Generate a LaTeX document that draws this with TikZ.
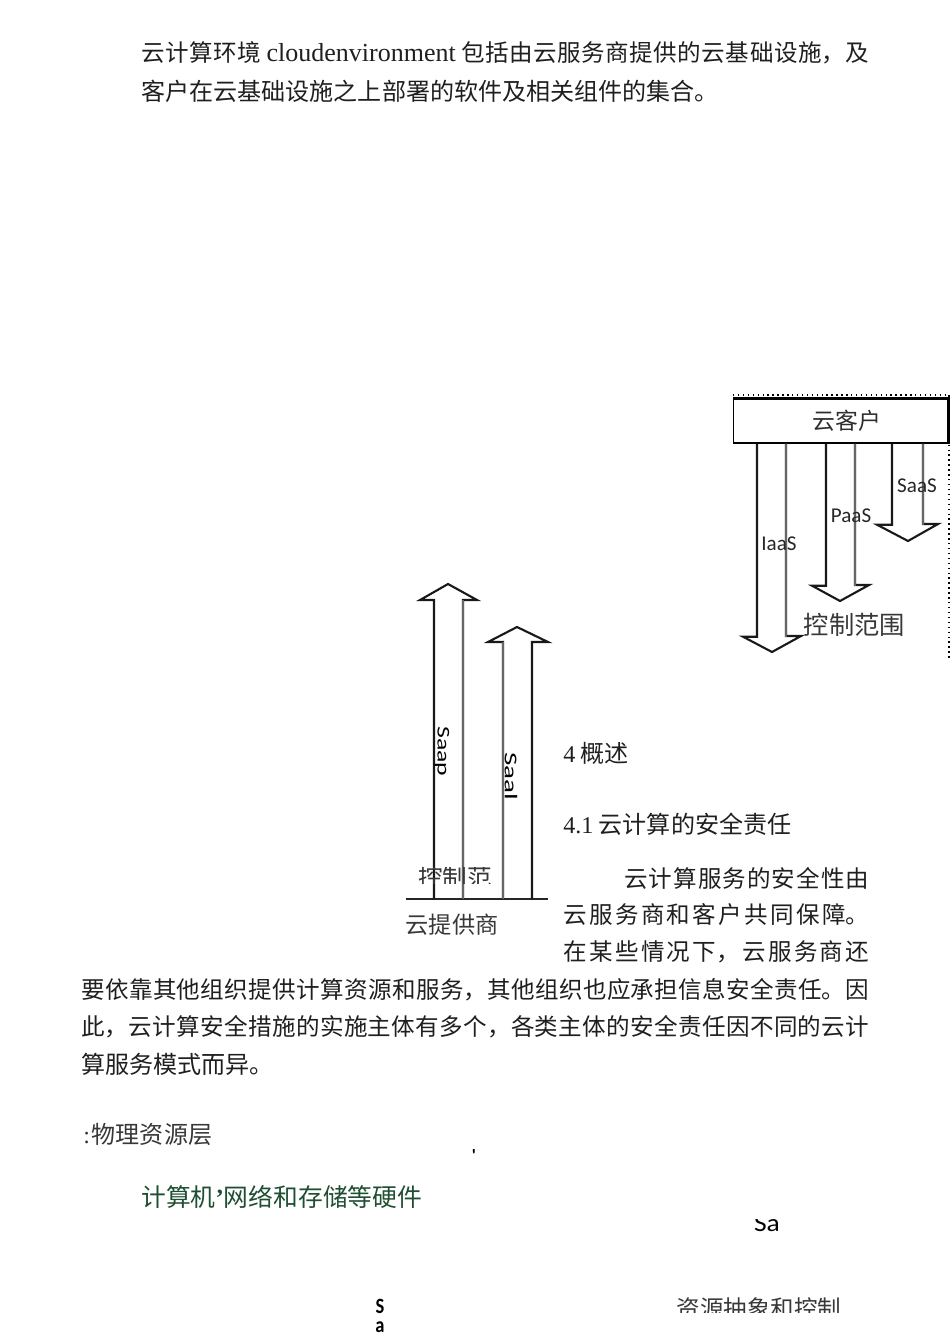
\documentclass[tikz,border=0pt]{standalone}
\usepackage{fontspec}
\setmainfont{Liberation Serif}
\newfontfamily\cjk{Noto Sans CJK SC}
\newfontfamily\labelfont{Carlito}
\XeTeXlinebreaklocale "zh"
\XeTeXlinebreakskip=0pt plus 4pt
\tolerance=9999
\newcommand{\fitline}[1]{\parfillskip=0pt\relax\noindent #1\par}
\tikzset{
	bodyline/.style = {anchor = west, inner sep = 0, align = justify, text width = #1*0.02cm, font = \fontsize{13.4pt}{16pt}\selectfont\cjk, text = black!88},
	plainline/.style = {anchor = west, inner sep = 0, font = \fontsize{13.7pt}{16pt}\selectfont\cjk, text = black!88},
	blockarrow/.style = {line width = 1.2pt, black!90, line join = miter},
	greyshaft/.style = {line width = 1.6pt, black!60},
	arrowlabel/.style = {inner sep = 0, font = \fontsize{12pt}{14pt}\selectfont\labelfont, text = black!85},
	picturetext/.style = {inner sep = 0, text = black!78, font = \fontsize{#1}{16pt}\selectfont\cjk}
}
\begin{document}
\begin{tikzpicture}[x = 0.02cm, y = -0.02cm]
	\useasboundingbox (0, 0) rectangle (950, 1344);
	% Text at the top
	\node[bodyline = 728] (introone) at (141, 53) {\fitline{云计算环境 {\rmfamily\fontsize{14.8pt}{16pt}\selectfont cloudenvironment} 包括由云服务商提供的云基础设施，及}};
	\node[plainline] (introtwo) at (141, 91) {客户在云基础设施之上部署的软件及相关组件的集合。};
	% Dotted frame
	\coordinate (framestart) at (733, 395);
	\coordinate (framecorner) at (949, 395);
	\coordinate (frameend) at (949, 661);
	\draw[dotted, thick] (framestart) -- (framecorner) -- (frameend);
	% Cloud customer
	\node[draw, line width = 0.8pt, minimum width = 214*0.02cm, minimum height = 44*0.02cm, inner sep = 0, font = \fontsize{13pt}{16pt}\selectfont\cjk, text = black!82] (customer) at (840.5, 421) {\hspace{0.25cm}云客户};
	\draw[line width = 1.6pt] (customer.north west) -- (customer.north east) -- (customer.south east);
	\coordinate (iaastip) at (772, 652);
	\coordinate (paastip) at (840, 601);
	\coordinate (saastip) at (908, 541);
	\draw[blockarrow] (iaastip |- customer.south) ++(-15, 0) -- ++(0, 193) -- ++(-14, 0) -- (iaastip) -- ++(29, -16) -- ++(-15, 0) -- ++(0, -193);
	\draw[blockarrow] (paastip |- customer.south) ++(-14, 0) -- ++(0, 142) -- ++(-14, 0) -- (paastip) -- ++(29, -16) -- ++(-14, 0) -- ++(0, -142);
	\draw[blockarrow] (saastip |- customer.south) ++(-16, 0) -- ++(0, 81) -- ++(-15, 0) -- (saastip) -- ++(30, -17) -- ++(-15, 0) -- ++(0, -81);
	\draw[greyshaft] (iaastip |- customer.south) ++(14, 0) -- ++(0, 193);
	\draw[greyshaft] (paastip |- customer.south) ++(15, 0) -- ++(0, 142);
	\draw[greyshaft] (saastip |- customer.south) ++(15, 0) -- ++(0, 81);
	% Labels
	\node[arrowlabel] (iaaslabel) at (779, 544) {IaaS};
	\node[arrowlabel] (paaslabel) at (851, 516) {PaaS};
	\node[arrowlabel] (saaslabel) at (917, 486) {SaaS};
	\node[picturetext = 14.4pt] (customerscope) at (854.5, 625) {控制范围};
	% Cloud provider
	\coordinate (baseleft) at (406, 899);
	\coordinate (baseright) at (548, 899);
	\coordinate (saaptip) at (448, 584);
	\coordinate (saaltip) at (517, 627);
	\draw[line width = 0.9pt, black!85] (baseleft) -- (baseright);
	\draw[blockarrow] (saaptip |- baseleft) ++(-14, 0) -- ++(0, -299) -- ++(-14, 0) -- (saaptip) -- ++(29, 16) -- ++(-14, 0) -- ++(0, 299);
	\draw[blockarrow] (saaltip |- baseleft) ++(-14, 0) -- ++(0, -257) -- ++(-15, 0) -- (saaltip) -- ++(31, 15) -- ++(-16, 0) -- ++(0, 257);
	\draw[greyshaft] (saaptip |- baseleft) ++(15, 0) -- ++(0, -299);
	\draw[greyshaft] (saaltip |- baseleft) ++(-14, 0) -- ++(0, -257);
	\node[arrowlabel, text = black, rotate = -90, xscale = 1.22, yscale = 0.85] (saaplabel) at (442, 751.5) {Saap};
	\node[arrowlabel, text = black, rotate = -90, xscale = 1.38, yscale = 0.85] (saallabel) at (511, 776.5) {Saal};
	\begin{scope}
		\clip (410, 867) rectangle (500, 883);
		\node[picturetext = 14pt] (providerscope) at (455, 877) {控制范};
	\end{scope}
	\node[picturetext = 13.2pt] (provider) at (452, 925) {云提供商};
	% Section text
	\node[plainline] (sectionfour) at (563, 753) {{\rmfamily 4} 概述};
	\node[plainline] (sectionfourone) at (563, 824) {{\rmfamily 4.1} 云计算的安全责任};
	\node[bodyline = 245] (wrapone) at (624, 878) {\fitline{云计算服务的安全性由}};
	\node[bodyline = 306] (wraptwo) at (563, 915) {\fitline{云服务商和客户共同保障。}};
	\node[bodyline = 306] (wrapthree) at (563, 952) {\fitline{在某些情况下，云服务商还}};
	\node[bodyline = 788] (fullone) at (81, 990) {\fitline{要依靠其他组织提供计算资源和服务，其他组织也应承担信息安全责任。因}};
	\node[bodyline = 788] (fulltwo) at (81, 1027) {\fitline{此，云计算安全措施的实施主体有多个，各类主体的安全责任因不同的云计}};
	\node[plainline] (fullthree) at (81, 1064) {算服务模式而异。};
	% Bottom fragments
	\node[plainline, text = black!78] (physical) at (83, 1134) {{\rmfamily :}\hspace{1pt}物理资源层};
	\node[inner sep = 0, font = \labelfont\bfseries] (mark) at (474, 1155) {'};
	\node[plainline, text = {rgb,255:red,32;green,78;blue,50}, font = \fontsize{14.1pt}{16pt}\selectfont\cjk] (hardware) at (141, 1197) {计算机{\rmfamily\bfseries ’}网络和存储等硬件};
	\begin{scope}
		\clip (745, 1219) rectangle (790, 1240);
		\node[arrowlabel, text = black, font = \fontsize{14pt}{16pt}\selectfont\labelfont, xscale = 1.12] (cutsa) at (767, 1224) {Sa};
	\end{scope}
	\node[arrowlabel, text = black, font = \fontsize{12.4pt}{14pt}\selectfont\labelfont\bfseries, xscale = 0.85] (cuts) at (380, 1306) {S};
	\node[arrowlabel, text = black, font = \fontsize{12.4pt}{14pt}\selectfont\labelfont\bfseries, xscale = 0.85] (cuta) at (380, 1327) {a};
	\begin{scope}
		\clip (670, 1290) rectangle (850, 1312);
		\node[picturetext = 13.4pt] (abstraction) at (759, 1309) {资源抽象和控制};
	\end{scope}
\end{tikzpicture}
\end{document}
